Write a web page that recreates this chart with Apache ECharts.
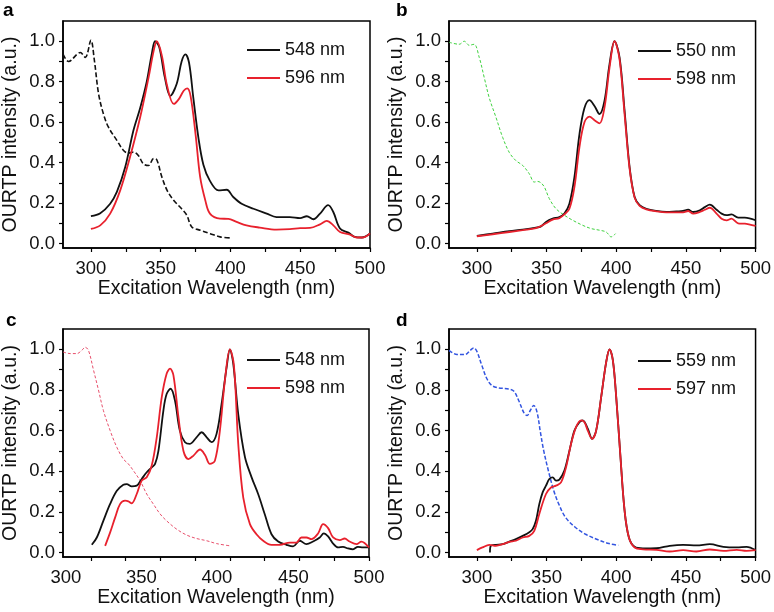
<!DOCTYPE html>
<html>
<head>
<meta charset="utf-8">
<script src="https://cdn.jsdelivr.net/npm/echarts@6/dist/echarts.min.js"></script>
<style>html,body{margin:0;padding:0;background:#fff}#c{width:774px;height:612px}</style>
</head>
<body>
<div id="c"></div>
<script>
// ---- tick labels / axes ----
const xTickLabels = [300, 350, 400, 450, 500];
const xTickMarks = [300, 325, 350, 375, 400, 425, 450, 475, 500];
const yTickLabels = [0, 0.2, 0.4, 0.6, 0.8, 1.0];
const yTickMarks = [0, 0.1, 0.2, 0.3, 0.4, 0.5, 0.6, 0.7, 0.8, 0.9, 1.0];
const panelLetters = ['a', 'b', 'c', 'd'];
const legendNames = [['548 nm', '596 nm'], ['550 nm', '598 nm'], ['548 nm', '598 nm'], ['559 nm', '597 nm']];

// ---- panel a ----
const a548 = [[300,0.135],[306.7,0.15],[313.8,0.197],[318.6,0.255],[324.6,0.378],[330.5,0.56],[335.3,0.67],[340,0.80],[343.7,0.94],[346,1.0],[349,0.97],[353,0.82],[356.8,0.73],[361.5,0.79],[365,0.90],[367.7,0.935],[370.3,0.895],[373.4,0.72],[377,0.525],[380.6,0.39],[385.3,0.31],[391.4,0.263],[397.3,0.266],[402,0.23],[408,0.197],[416.5,0.172],[426,0.148],[433,0.131],[442.6,0.131],[449.9,0.126],[454.7,0.135],[459.4,0.12],[464.2,0.148],[470,0.19],[473.7,0.156],[478.5,0.074],[484.5,0.054],[489,0.033],[494,0.03],[500,0.05]];
const a596 = [[300,0.072],[306.7,0.09],[313.8,0.148],[321,0.263],[328,0.427],[335.3,0.624],[341.3,0.82],[344.9,0.95],[347.2,1.0],[350.8,0.93],[354.6,0.78],[359.4,0.69],[363,0.714],[366.5,0.755],[369,0.767],[371.4,0.73],[375,0.54],[378.3,0.328],[382,0.213],[385.3,0.148],[392.5,0.123],[398.5,0.122],[404.4,0.107],[411.5,0.09],[421,0.079],[433,0.069],[442.6,0.071],[449.9,0.076],[457,0.077],[464.2,0.095],[469,0.112],[473.7,0.09],[478.5,0.057],[485.7,0.044],[490.5,0.03],[495,0.03],[500,0.05]];
const aAbs = [[280,0.936],[284,0.90],[292.4,0.944],[296,0.92],[300,1.005],[302.4,0.91],[305.5,0.74],[309,0.64],[312.6,0.575],[318.6,0.51],[323.4,0.46],[327,0.447],[330.5,0.452],[334,0.435],[337.6,0.394],[341.3,0.386],[344.9,0.42],[347.2,0.414],[350.8,0.33],[354.6,0.263],[359.4,0.213],[365,0.172],[368.7,0.14],[372.3,0.082],[378.3,0.066],[385.5,0.049],[392.6,0.033],[399.8,0.028]];

// ---- panel b ----
const b550 = [[300,0.038],[311.3,0.049],[323.3,0.061],[332.9,0.069],[342.4,0.079],[346,0.085],[349.6,0.107],[354.4,0.123],[359.2,0.131],[362.8,0.148],[366.4,0.197],[370,0.328],[373.6,0.54],[377.2,0.67],[380.8,0.709],[384.4,0.68],[388,0.64],[391.6,0.706],[395.2,0.887],[398.8,1.0],[402.4,0.92],[406,0.657],[409.6,0.378],[413.2,0.23],[416.8,0.19],[421.6,0.172],[428.8,0.161],[436,0.156],[443.2,0.159],[448,0.161],[451.6,0.167],[455.2,0.156],[460,0.164],[463.6,0.18],[467.2,0.192],[472,0.167],[475.6,0.148],[479.2,0.14],[482.7,0.144],[487.5,0.128],[492.3,0.128],[500,0.115]];
const b598 = [[300,0.036],[311.3,0.046],[323.3,0.057],[332.9,0.066],[342.4,0.076],[349.6,0.10],[354.4,0.118],[359.2,0.126],[362.8,0.144],[366.4,0.172],[370,0.279],[373.6,0.476],[377.2,0.60],[380.8,0.627],[384.4,0.61],[388,0.594],[391.6,0.673],[395.2,0.87],[398.8,1.0],[402.4,0.91],[406,0.64],[409.6,0.37],[413.2,0.227],[416.8,0.186],[421.6,0.169],[428.8,0.159],[436,0.154],[443.2,0.154],[448,0.154],[451.6,0.161],[455.2,0.148],[460,0.156],[463.6,0.167],[467.2,0.177],[472,0.148],[475.6,0.123],[479.2,0.115],[482.7,0.123],[487.5,0.10],[492.3,0.098],[500,0.087]];
const bAbs = [[280,0.995],[287.3,0.985],[291,1.0],[294.5,0.98],[298,0.985],[301.7,0.92],[305.3,0.82],[308.9,0.72],[313.7,0.624],[318.5,0.525],[323.3,0.45],[328,0.41],[332.9,0.386],[337.6,0.345],[341.2,0.304],[343.6,0.307],[346,0.30],[348.4,0.28],[352,0.222],[356.8,0.172],[362.8,0.14],[368.8,0.115],[376,0.09],[382,0.074],[388,0.066],[392.8,0.057],[396.4,0.033],[399.5,0.049]];

// ---- panel c ----
const c548 = [[300.7,0.038],[304.3,0.074],[309,0.156],[313.8,0.238],[318.7,0.304],[323.4,0.334],[325.8,0.337],[329.4,0.326],[333,0.329],[336.6,0.362],[340.2,0.395],[343.8,0.419],[346.2,0.436],[348.6,0.50],[352.2,0.70],[354.5,0.78],[357.4,0.806],[360.5,0.748],[364,0.60],[367.7,0.543],[371.3,0.535],[376,0.567],[379.7,0.592],[383.3,0.567],[386.8,0.543],[390.4,0.584],[394,0.73],[397.6,0.91],[400,1.0],[402.4,0.93],[406,0.68],[410.8,0.47],[415.6,0.37],[420.3,0.288],[425,0.19],[429.9,0.09],[434.7,0.054],[440.7,0.038],[445.4,0.03],[450.2,0.058],[455,0.041],[459.8,0.054],[464.6,0.074],[467.5,0.094],[470.6,0.079],[474.2,0.044],[477.8,0.025],[481.3,0.028],[484.9,0.02],[488.5,0.016],[492,0.028],[495.7,0.025],[500,0.025]];
const c598 = [[310.3,0.033],[313.9,0.099],[317.5,0.173],[321,0.238],[324.6,0.255],[327,0.252],[329.4,0.242],[333,0.288],[336.6,0.354],[340.2,0.37],[343.8,0.428],[347.4,0.567],[351,0.765],[354.5,0.88],[357,0.905],[359.4,0.872],[363,0.666],[366.6,0.50],[370.2,0.46],[373.8,0.477],[378.5,0.507],[382.1,0.48],[385.6,0.436],[389.2,0.452],[392.8,0.60],[396.4,0.847],[400,1.0],[402.9,0.92],[406,0.535],[409.6,0.27],[414.4,0.14],[419.1,0.09],[423.9,0.058],[429.9,0.038],[435.9,0.038],[443.1,0.049],[447.8,0.049],[451.4,0.074],[455,0.074],[458.6,0.066],[463.4,0.094],[467,0.14],[470.6,0.12],[474.2,0.074],[479,0.061],[482.5,0.069],[486,0.054],[491,0.041],[494.5,0.054],[500,0.025]];
const cAbs = [[280,0.987],[285.2,0.979],[290,0.979],[293.5,0.995],[296,1.01],[298.3,0.995],[302,0.896],[305.5,0.80],[309,0.70],[313.9,0.60],[318.7,0.518],[323.4,0.46],[327,0.436],[330.6,0.403],[335.4,0.354],[340.2,0.288],[345,0.238],[349.8,0.19],[354.5,0.156],[361.7,0.115],[368.9,0.086],[376,0.069],[383.3,0.058],[390.4,0.044],[400,0.033]];

// ---- panel d ----
const d559 = [[309.4,0.0],[310,0.033],[313.7,0.038],[318.5,0.041],[323.3,0.054],[328,0.066],[332.9,0.082],[337.6,0.10],[340,0.115],[342.4,0.156],[344.8,0.238],[347.2,0.296],[349.6,0.329],[352,0.362],[354.4,0.37],[356.8,0.354],[359.2,0.359],[362.8,0.403],[366.4,0.50],[370,0.60],[373.6,0.641],[376,0.65],[379.6,0.609],[382.7,0.559],[385.6,0.60],[389.2,0.765],[392.8,0.937],[395.2,1.0],[397.6,0.946],[400,0.765],[402.9,0.485],[406,0.206],[409.1,0.074],[413.2,0.028],[419.2,0.02],[428.8,0.021],[438.4,0.033],[448,0.038],[457.6,0.035],[467.2,0.041],[476.9,0.028],[486.5,0.025],[493.5,0.028],[500,0.012]];
const d597 = [[300,0.012],[304,0.025],[308.9,0.038],[313.7,0.033],[318.5,0.041],[323.3,0.053],[328,0.058],[332.9,0.074],[337.6,0.082],[341.2,0.107],[344.8,0.19],[349.6,0.288],[353.2,0.32],[356.8,0.329],[360.4,0.345],[364,0.42],[367.6,0.535],[371.2,0.617],[374.8,0.65],[377.2,0.641],[379.6,0.60],[382.7,0.559],[385.6,0.60],[389.2,0.765],[392.8,0.937],[395.2,1.0],[397.6,0.946],[400,0.765],[402.9,0.485],[406,0.206],[409.1,0.074],[413.2,0.025],[419.2,0.016],[428.8,0.013],[438.4,0.005],[448,0.012],[457.6,0.005],[467.2,0.015],[476.9,0.008],[486.5,0.013],[493.5,0.008],[500,0.012]];
const dAbs = [[280,0.995],[285.7,0.975],[291.7,0.975],[295.3,0.995],[297.7,1.007],[300,0.99],[303.6,0.92],[307.2,0.855],[310.8,0.822],[315.6,0.81],[321.6,0.806],[326.4,0.795],[330,0.748],[333.6,0.69],[336,0.674],[338.4,0.70],[340.8,0.724],[343.2,0.69],[345.6,0.592],[348,0.50],[351.6,0.395],[355.2,0.304],[358.8,0.238],[363.6,0.173],[370.8,0.123],[378,0.09],[387.6,0.061],[394.8,0.044],[401.5,0.036]];

// ---- build ----
const FONT = "'Liberation Sans', Arial, Helvetica, sans-serif";
const BLACK = '#111111', RED = '#e8212d';
const TICKFS = 18.5, TITLEFS = 19.5, LEGFS = 18;
const grids = [
  {left: 63, top: 21, width: 307, height: 227},
  {left: 449, top: 21, width: 308, height: 227},
  {left: 63, top: 329, width: 306, height: 228},
  {left: 449, top: 329, width: 308, height: 228}
];
const legendPos = [{left: 247, top: 40}, {left: 638, top: 41}, {left: 247, top: 350}, {left: 638, top: 351}];
const letterPos = [{left: 3, top: 1}, {left: 396, top: 1}, {left: 6, top: 311}, {left: 396, top: 311}];
// label shift (px to the left) used for panel c, whose tick labels sit left of their ticks
const cShift = {300: 25, 350: 19, 400: 13, 450: 6, 500: 0};

function xAxisFor(i) {
  const ax = {
    type: 'value', gridIndex: i, min: 280, max: 500,
    splitLine: {show: false},
    axisLine: {onZero: false, lineStyle: {color: '#000', width: 1.5}},
    axisTick: {show: true, inside: false, length: 4, lineStyle: {color: '#000', width: 1.2}, customValues: xTickMarks},
    axisLabel: {customValues: xTickLabels, margin: 11, fontSize: TICKFS, fontFamily: FONT, color: '#111'},
    name: 'Excitation Wavelength (nm)', nameLocation: 'middle', nameGap: 28,
    nameTextStyle: {fontSize: TITLEFS, fontFamily: FONT, color: '#111'}
  };
  if (i === 2) {
    const rich = {};
    xTickLabels.forEach(v => {
      rich['s' + v] = {fontSize: TICKFS, fontFamily: FONT, color: '#111', padding: [0, 2 * cShift[v], 0, 0]};
    });
    ax.axisLabel.formatter = v => '{s' + v + '|' + v + '}';
    ax.axisLabel.rich = rich;
  }
  return ax;
}
function yAxisFor(i) {
  return {
    type: 'value', gridIndex: i, min: -0.022, max: 1.1,
    splitLine: {show: false},
    axisLine: {onZero: false, lineStyle: {color: '#000', width: 1.5}},
    axisTick: {show: true, inside: false, length: 4, lineStyle: {color: '#000', width: 1.2}, customValues: yTickMarks},
    axisLabel: {customValues: yTickLabels, margin: 8, fontSize: TICKFS, fontFamily: FONT, color: '#111',
      formatter: v => Number(v).toFixed(1)},
    name: 'OURTP intensity (a.u.)', nameLocation: 'middle', nameGap: 42,
    nameTextStyle: {fontSize: TITLEFS, fontFamily: FONT, color: '#111'}
  };
}
function solid(name, data, color, i) {
  return {type: 'line', name, data, xAxisIndex: i, yAxisIndex: i, showSymbol: false, symbol: 'none',
    smooth: 0.35, lineStyle: {color, width: 1.8}, itemStyle: {color}, z: color === RED ? 3 : 2};
}
function dashed(data, color, width, dash, i) {
  return {type: 'line', name: 'abs' + i, data, xAxisIndex: i, yAxisIndex: i, showSymbol: false, symbol: 'none',
    smooth: 0.35, lineStyle: {color, width, type: dash}, itemStyle: {color}, z: 1};
}

const series = [
  dashed(aAbs, '#111111', 1.6, [5, 2.5], 0),
  solid('548 nm', a548, BLACK, 0), solid('596 nm', a596, RED, 0),
  dashed(bAbs, '#3fd23f', 1.0, [3, 2], 1),
  solid('550 nm', b550, BLACK, 1), solid('598 nm', b598, RED, 1),
  dashed(cAbs, '#e8506c', 1.0, [3, 2], 2),
  solid('548 nm', c548, BLACK, 2), solid('598 nm', c598, RED, 2),
  dashed(dAbs, '#3355e0', 1.5, [4, 2], 3),
  solid('559 nm', d559, BLACK, 3), solid('597 nm', d597, RED, 3)
];

const option = {
  animation: false,
  backgroundColor: '#fff',
  textStyle: {fontFamily: FONT},
  grid: grids.map(g => Object.assign({show: true, borderColor: '#000', borderWidth: 1.5, backgroundColor: 'transparent', containLabel: false}, g)),
  xAxis: [0, 1, 2, 3].map(xAxisFor),
  yAxis: [0, 1, 2, 3].map(yAxisFor),
  title: panelLetters.map((t, i) => ({text: t, left: letterPos[i].left, top: letterPos[i].top, padding: 0,
    textStyle: {fontSize: 19, fontWeight: 'bold', fontFamily: FONT, color: '#000'}})),
  legend: legendNames.map((names, i) => ({
    data: names.map(n => ({name: n, icon: 'rect'})), orient: 'vertical', left: legendPos[i].left, top: legendPos[i].top,
    itemWidth: 33, itemHeight: 2, itemGap: 8, padding: 0, selectedMode: false,
    textStyle: {fontSize: LEGFS, fontFamily: FONT, color: '#111', lineHeight: 20}
  })),
  series
};
const chart = echarts.init(document.getElementById('c'), null, {renderer: 'canvas'});
chart.setOption(option);
</script>
</body>
</html>
